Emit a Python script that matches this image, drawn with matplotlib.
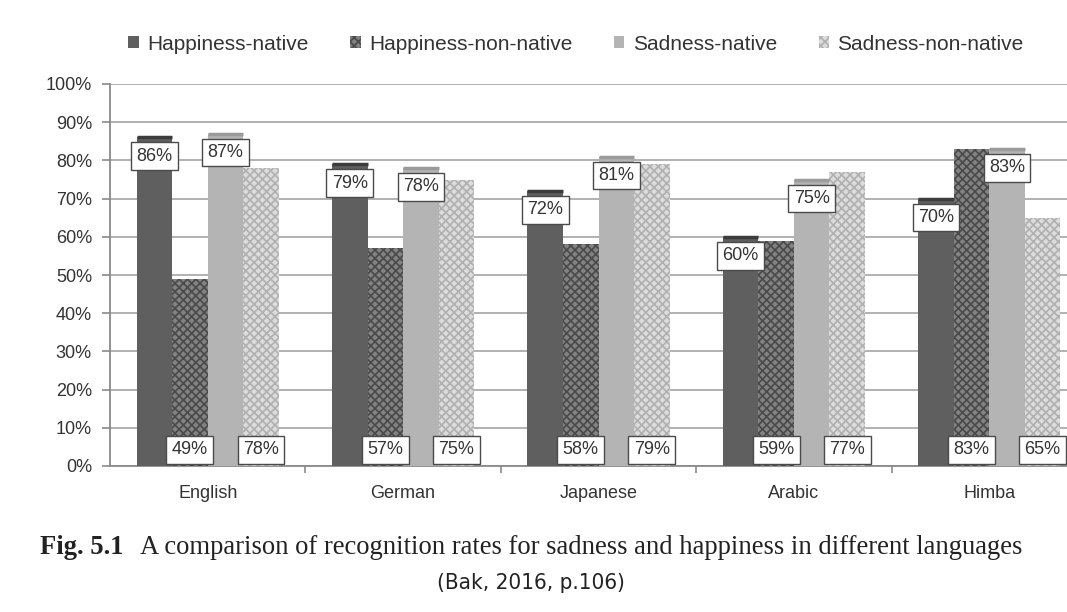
import matplotlib
matplotlib.use("Agg")
import matplotlib.pyplot as plt
import numpy as np
from matplotlib.patches import Patch
from matplotlib import font_manager

# ---- data ----
languages = ["English", "German", "Japanese", "Arabic", "Himba"]
series_names = ["Happiness-native", "Happiness-non-native", "Sadness-native", "Sadness-non-native"]
happiness_native = [86, 79, 72, 60, 70]
happiness_non_native = [49, 57, 58, 59, 83]
sadness_native = [87, 78, 81, 75, 83]
sadness_non_native = [78, 75, 79, 77, 65]
y_ticks = [0, 10, 20, 30, 40, 50, 60, 70, 80, 90, 100]
caption_main = "A comparison of recognition rates for sadness and happiness in different languages"
caption_fig = "Fig. 5.1"
caption_src = "(Bak, 2016, p.106)"

plt.rcParams['font.family'] = ['Liberation Sans', 'DejaVu Sans']
plt.rcParams['hatch.linewidth'] = 1.2

W, H = 1067, 612
fig = plt.figure(figsize=(W / 100, H / 100), dpi=100)
ax = fig.add_axes([110 / W, 1 - 466 / H, (1087 - 110) / W, (466 - 84) / H])

x = np.arange(len(languages))
bw = 0.182
offs = np.array([-1.5, -0.5, 0.5, 1.5]) * bw

styles = [
    dict(fc="#5f5f5f", hatch=None, ec="#5f5f5f", cap="#3c3c3c"),
    dict(fc="#828282", hatch="xxxx", ec="#4a4a4a", cap=None),
    dict(fc="#b4b4b4", hatch=None, ec="#b4b4b4", cap="#9a9a9a"),
    dict(fc="#dcdcdc", hatch="xxxx", ec="#b0b0b0", cap=None),
]
data = [happiness_native, happiness_non_native, sadness_native, sadness_non_native]

for i, (vals, st) in enumerate(zip(data, styles)):
    xs = x + offs[i]
    ax.bar(xs, vals, width=bw, color=st["fc"], edgecolor=st["ec"], hatch=st["hatch"],
           linewidth=0, zorder=3)
    if st["cap"]:
        ax.hlines(vals, xs - bw / 2, xs + bw / 2, colors=st["cap"], linewidth=2.5, zorder=4)
    for xi, v in zip(xs, vals):
        box = dict(boxstyle="square,pad=0.3", fc="white", ec="#4a4a4a", lw=1.0)
        if i in (0, 2):
            ax.annotate(f"{v}%", xy=(xi, v), xytext=(0, -7.5), textcoords="offset points",
                        ha="center", va="top", fontsize=13, color="#333333", bbox=box, zorder=6)
        else:
            ax.annotate(f"{v}%", xy=(xi, 0), xytext=(0, 5.5), textcoords="offset points",
                        ha="center", va="bottom", fontsize=13, color="#333333", bbox=box, zorder=6)

ax.set_xlim(-0.5, len(languages) - 0.5)
ax.set_ylim(0, 100)
ax.set_yticks(y_ticks)
ax.set_yticklabels([f"{t}%" for t in y_ticks], fontsize=13, color="#333333")
ax.yaxis.grid(True, color="#ababab", linewidth=1.3, zorder=0)
ax.set_axisbelow(True)
ax.set_xticks(x)
ax.set_xticklabels(languages, fontsize=13, color="#333333")
ax.set_xticks(np.arange(len(languages) - 1) + 0.5, minor=True)
ax.tick_params(axis="x", which="major", length=0, pad=14)
ax.tick_params(axis="x", which="minor", length=5, color="#8a8a8a", width=1.2)
ax.tick_params(axis="y", length=6, color="#8a8a8a", width=1.2, pad=7)
for s in ["top", "right"]:
    ax.spines[s].set_visible(False)
for s in ["left", "bottom"]:
    ax.spines[s].set_color("#8a8a8a")
    ax.spines[s].set_linewidth(1.3)

handles = [Patch(facecolor=st["fc"], edgecolor=st["ec"], hatch=st["hatch"], linewidth=0) for st in styles]
fig.legend(handles, series_names, loc="center", bbox_to_anchor=(576 / W, 1 - 44 / H), ncol=4,
           frameon=False, fontsize=15, handlelength=0.5, handleheight=0.5, handletextpad=0.4,
           columnspacing=2.0, labelcolor="#333333")

# caption
serif = ["Liberation Serif", "DejaVu Serif"]
cap_fs = 19.2
t1 = fig.text(40 / W, 1 - 547 / H, caption_fig, fontsize=cap_fs, fontweight="bold",
              family=serif, ha="left", va="center", color="#222222")
r = fig.canvas.get_renderer()
e1 = t1.get_window_extent(r)
fig.text((e1.x1 + 16) / W, 1 - 547 / H, caption_main, fontsize=cap_fs,
         family=serif, ha="left", va="center", color="#222222")

src_kw = dict(family=["Roboto", "DejaVu Sans"], fontweight="light", fontsize=15)
for f in font_manager.fontManager.ttflist:
    fn = f.fname.lower()
    if ("condensed" in fn or "narrow" in fn) and "bold" not in fn and "oblique" not in fn and "italic" not in fn:
        src_kw = dict(fontproperties=font_manager.FontProperties(fname=f.fname, size=16))
        break
fig.text(531 / W, 1 - 583 / H, caption_src, ha="center", va="center", color="#222222", **src_kw)

fig.savefig("out.png", dpi=100)
